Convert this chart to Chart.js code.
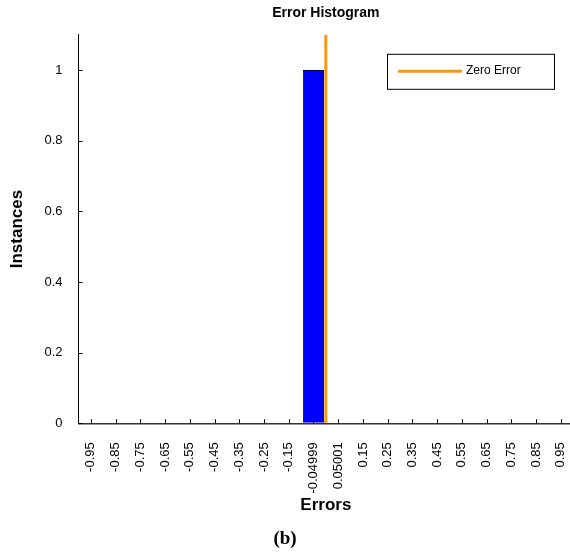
<!DOCTYPE html>
<html>
<head>
<meta charset="utf-8">
<script src="https://cdn.jsdelivr.net/npm/chart.js@4/dist/chart.umd.min.js"></script>
<style>
  body { margin: 0; background: #fff; }
  #wrap { position: relative; width: 570px; height: 558px; overflow: hidden; }
  #caption {
    position: absolute; left: 0; width: 570px; top: 527px;
    text-align: center; font: bold 19px "Liberation Serif", serif; color: #000;
  }
</style>
</head>
<body>
<div id="wrap">
  <canvas id="chart" width="596" height="558"></canvas>
  <div id="caption">(b)</div>
</div>
<script>
// histogram bins (centers), counts and tick labels
const binCenters = [-0.95, -0.85, -0.75, -0.65, -0.55, -0.45, -0.35, -0.25, -0.15, -0.04999,
  0.05001, 0.15, 0.25, 0.35, 0.45, 0.55, 0.65, 0.75, 0.85, 0.95]
const binLabels = ["-0.95", "-0.85", "-0.75", "-0.65", "-0.55", "-0.45", "-0.35", "-0.25", "-0.15", "-0.04999",
  "0.05001", "0.15", "0.25", "0.35", "0.45", "0.55", "0.65", "0.75", "0.85", "0.95"]
const instances = [0, 0, 0, 0, 0, 0, 0, 0, 0, 1, 0, 0, 0, 0, 0, 0, 0, 0, 0, 0]
const yTicks = [0, 0.2, 0.4, 0.6, 0.8, 1]
const zeroErrorX = 0
const yMax = 1.1

const FONT = "'Liberation Sans', Arial, sans-serif"
const ORANGE = "#ff9900"

// MATLAB style inward tick marks + boxed legend
const matlabDecor = {
  id: "matlabDecor",
  afterDraw(chart) {
    const ctx = chart.ctx
    const area = chart.chartArea
    const x = chart.scales.x
    const y = chart.scales.y
    ctx.save()
    ctx.strokeStyle = "#000"
    ctx.lineWidth = 1
    ctx.beginPath()
    y.ticks.forEach(t => {
      const py = Math.round(y.getPixelForValue(t.value)) + 0.5
      ctx.moveTo(area.left, py)
      ctx.lineTo(area.left + 4, py)
    })
    x.ticks.forEach(t => {
      const px = Math.round(x.getPixelForValue(t.value)) + 0.5
      ctx.moveTo(px, area.bottom)
      ctx.lineTo(px, area.bottom - 4)
    })
    ctx.stroke()

    // legend
    const bw = 167, bh = 35
    const bx = 387
    const by = area.top + 19
    ctx.fillStyle = "#fff"
    ctx.fillRect(bx, by, bw, bh)
    ctx.strokeStyle = "#000"
    ctx.strokeRect(bx + 0.5, by + 0.5, bw, bh)
    ctx.strokeStyle = ORANGE
    ctx.lineWidth = 3
    ctx.beginPath()
    ctx.moveTo(bx + 11, by + 17.5)
    ctx.lineTo(bx + 75, by + 17.5)
    ctx.stroke()
    ctx.fillStyle = "#000"
    ctx.font = "12px " + FONT
    ctx.textBaseline = "middle"
    ctx.fillText(chart.data.datasets[1].label, bx + 79, by + 17)
    ctx.restore()
  }
}

new Chart(document.getElementById("chart"), {
  type: "bar",
  data: {
    datasets: [
      {
        label: "Instances",
        data: binCenters.map((c, i) => ({ x: c, y: instances[i] })),
        backgroundColor: "#0000ff",
        borderColor: "#000",
        borderWidth: 1,
        barPercentage: 1,
        categoryPercentage: 0.86,
        order: 2,
      },
      {
        type: "line",
        label: "Zero Error",
        data: [{ x: zeroErrorX, y: 0 }, { x: zeroErrorX, y: yMax }],
        borderColor: ORANGE,
        borderWidth: 3,
        pointRadius: 0,
        order: 1,
      },
    ],
  },
  options: {
    responsive: false,
    animation: false,
    layout: { padding: { left: 3, right: 0, top: 0, bottom: 38 } },
    plugins: {
      legend: { display: false },
      tooltip: { enabled: false },
      title: {
        display: true,
        fullSize: false,
        text: "Error Histogram",
        color: "#000",
        font: { family: FONT, size: 14, weight: "bold" },
        padding: { top: 5, bottom: 13 },
      },
    },
    scales: {
      x: {
        type: "linear",
        offset: false,
        min: -1,
        max: 1,
        afterBuildTicks: s => { s.ticks = binCenters.map(v => ({ value: v })) },
        ticks: {
          autoSkip: false,
          minRotation: 90,
          maxRotation: 90,
          padding: 19,
          color: "#000",
          font: { family: FONT, size: 13 },
          callback: (v, i) => binLabels[i],
        },
        grid: { offset: false, drawOnChartArea: false, drawTicks: false },
        border: { display: true, color: "#333", width: 1.5 },
        title: {
          display: true,
          text: "Errors",
          color: "#000",
          font: { family: FONT, size: 17, weight: "bold" },
          padding: { top: -17, bottom: 4 },
        },
      },
      y: {
        min: 0,
        max: yMax,
        afterBuildTicks: s => { s.ticks = yTicks.map(v => ({ value: v })) },
        ticks: {
          padding: 16,
          color: "#000",
          font: { family: FONT, size: 13 },
          callback: v => String(v),
        },
        grid: { drawOnChartArea: false, drawTicks: false },
        border: { display: true, color: "#000", width: 1 },
        title: {
          display: true,
          text: "Instances",
          color: "#000",
          font: { family: FONT, size: 17, weight: "bold" },
          padding: { top: 4, bottom: 1 },
        },
      },
    },
  },
  plugins: [matlabDecor],
})
</script>
</body>
</html>
